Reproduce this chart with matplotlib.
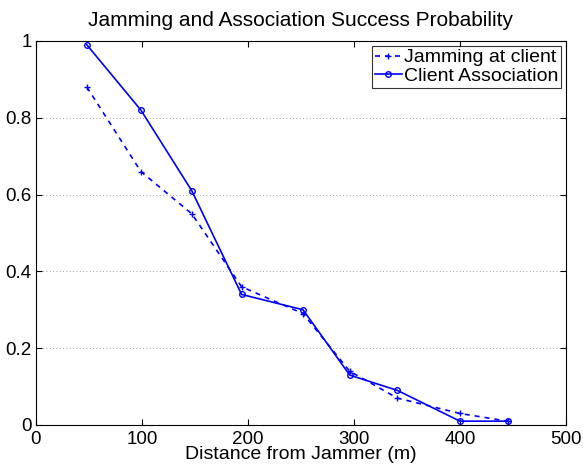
import matplotlib
matplotlib.use("Agg")
import matplotlib.pyplot as plt

distance = [48, 99, 147, 194, 252, 296, 341, 400, 445]
jamming = [0.88, 0.66, 0.55, 0.36, 0.29, 0.14, 0.07, 0.03, 0.01]
association = [0.99, 0.82, 0.61, 0.34, 0.30, 0.13, 0.09, 0.01, 0.01]

plt.rcParams['font.family'] = ['Liberation Sans', 'DejaVu Sans']

fig = plt.figure(figsize=(5.83, 4.68), dpi=100)
ax = fig.add_axes([0.0617, 0.0919, 0.909, 0.8205])

ax.plot(distance, jamming, '--', color='blue', marker='+', markersize=5,
        linewidth=1.2, dashes=(3, 3), label='Jamming at client')
ax.plot(distance, association, '-', color='blue', marker='o', markersize=4,
        markerfacecolor='none', linewidth=1.2, label='Client Association')

ax.set_xlim(0, 500)
ax.set_ylim(0, 1)
ax.set_xticks([0, 100, 200, 300, 400, 500])
ax.set_yticks([0, 0.2, 0.4, 0.6, 0.8, 1])
ax.set_yticklabels(['0', '0.2', '0.4', '0.6', '0.8', '1'])
ax.yaxis.grid(True, linestyle=(0, (1, 3)), color='#888888', linewidth=0.6)
ax.tick_params(direction='in', top=True, right=True, labelsize=13.5, length=4)
ax.tick_params(axis='x', pad=4)
ax.tick_params(axis='y', pad=3)
for s in ax.spines.values():
    s.set_linewidth(0.8)

ax.set_title('Jamming and Association Success Probability', fontsize=15, pad=11)
ax.set_xlabel('Distance from Jammer (m)', fontsize=14, labelpad=-1)

leg = ax.legend(loc='upper right', fontsize=14, frameon=True, fancybox=False,
                edgecolor='black', handlelength=1.4, handletextpad=0.1,
                borderpad=0.15, labelspacing=0.05, borderaxespad=0.25)
leg.get_frame().set_linewidth(0.8)

fig.savefig('out.png', dpi=100)
